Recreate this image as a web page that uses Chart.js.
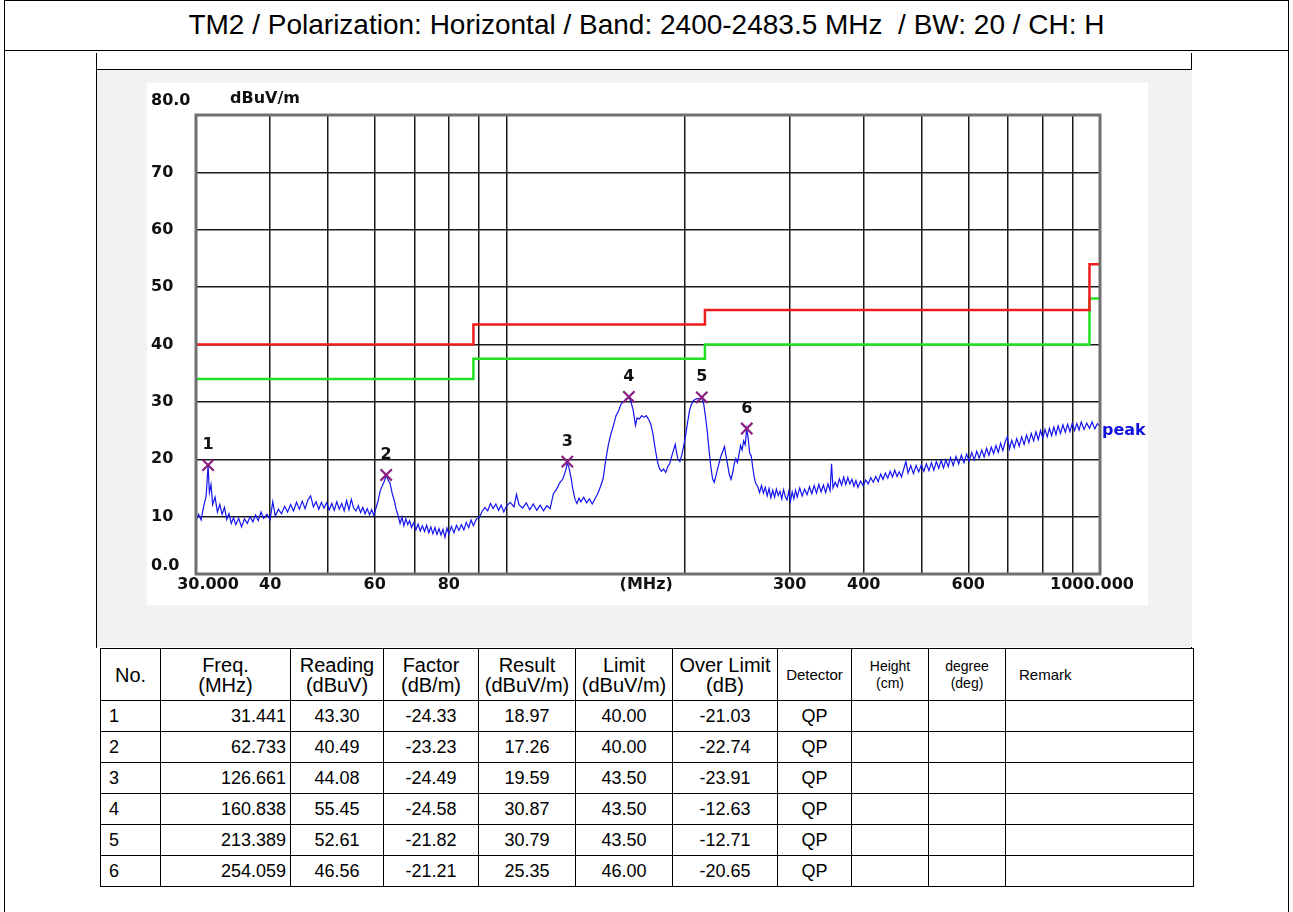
<!DOCTYPE html>
<html>
<head>
<meta charset="utf-8">
<script src="https://cdn.jsdelivr.net/npm/chart.js@4/dist/chart.umd.min.js"></script>
<style>
  html, body { margin: 0; padding: 0; background: #fff; }
  body { width: 1293px; height: 912px; position: relative; overflow: hidden; font-family: "Liberation Sans", Arial, sans-serif; }
  #frame { position: absolute; left: 4px; top: 0; width: 1285px; height: 930px; border: 1.5px solid #000; box-sizing: border-box; }
  #title { position: absolute; left: 4px; top: 0; width: 1285px; height: 51px; border-bottom: 1.5px solid #000; box-sizing: border-box;
           font-size: 28px; line-height: 50px; text-align: center; white-space: pre; color: #000; }
  #lineL { position: absolute; left: 96px; top: 53px; width: 0; height: 595px; border-left: 1.5px solid #000; }
  #lineR { position: absolute; left: 1191px; top: 53px; width: 0; height: 595px; border-left: 1.5px solid #000; }
  #panel { position: absolute; left: 97px; top: 69px; width: 1095px; height: 577px; background: #f2f2f2; border-top: 1.5px solid #000; }
  #plot { position: absolute; left: 147px; top: 83px; width: 1001px; height: 522px; background: #fff; }
  table { position: absolute; left: 100px; top: 648px; width: 1093px; border-collapse: collapse; table-layout: fixed; font-size: 18px; color: #000; }
  td, th { border: 1.5px solid #000; padding: 0 4px; font-weight: normal; line-height: 20px; }
  tbody tr { height: 31px; }
  thead tr { height: 52px; }
  th { text-align: center; font-size: 20px; padding: 0 2px; }
  th.sm { font-size: 15px; line-height: 17px; }
  th.xs { font-size: 14px; line-height: 17px; }
  td { text-align: center; }
  td.no { text-align: left; padding-left: 8px; }
  td.fr { text-align: right; }
</style>
</head>
<body>
<div id="frame"></div>
<div id="title">TM2 / Polarization: Horizontal / Band: 2400-2483.5 MHz  / BW: 20 / CH: H</div>
<div id="lineL"></div>
<div id="lineR"></div>
<div id="panel"></div>
<div id="plot"><canvas id="spectrum" width="1001" height="522"></canvas></div>
<table id="results">
  <colgroup>
    <col style="width:60px"><col style="width:130px"><col style="width:93px"><col style="width:95px">
    <col style="width:97px"><col style="width:97px"><col style="width:105px"><col style="width:74px">
    <col style="width:77px"><col style="width:77px"><col style="width:188px">
  </colgroup>
  <thead>
    <tr>
      <th>No.</th><th>Freq.<br>(MHz)</th><th>Reading<br>(dBuV)</th><th>Factor<br>(dB/m)</th>
      <th>Result<br>(dBuV/m)</th><th>Limit<br>(dBuV/m)</th><th>Over Limit<br>(dB)</th>
      <th class="sm">Detector</th><th class="xs">Height<br>(cm)</th><th class="xs">degree<br>(deg)</th>
      <th class="sm" style="text-align:left;padding-left:13px">Remark</th>
    </tr>
  </thead>
  <tbody></tbody>
</table>
<script>
// scan trace (MHz / dBuV/m)
const traceFreq = [
  30.0, 30.3, 30.6, 30.9, 31.2, 31.44, 31.6, 31.8, 32.0, 32.3, 32.6, 32.9, 33.2, 33.5, 33.8, 34.1, 34.4, 34.7, 35.0, 35.4,
  35.8, 36.2, 36.6, 37.0, 37.4, 37.8, 38.2, 38.6, 39.0, 39.5, 40.0, 40.4, 40.8, 41.3, 41.8, 42.3, 42.8, 43.3, 43.8, 44.3,
  44.8, 45.3, 45.8, 46.3, 46.8, 47.3, 47.8, 48.3, 48.8, 49.3, 49.8, 50.3, 50.8, 51.3, 51.8, 52.3, 52.8, 53.3, 53.8, 54.3,
  54.8, 55.3, 55.8, 56.3, 56.8, 57.3, 57.8, 58.3, 58.8, 59.3, 59.8, 60.3, 60.8, 61.3, 61.8, 62.3, 62.73, 63.2, 63.7, 64.2,
  64.7, 65.2, 65.7, 66.2, 66.7, 67.2, 67.7, 68.2, 68.7, 69.2, 69.8, 70.4, 71.0, 71.6, 72.2, 72.8, 73.4, 74.0, 74.6, 75.2,
  75.8, 76.4, 77.0, 77.6, 78.2, 78.8, 79.4, 80.0, 80.8, 81.6, 82.4, 83.2, 84.0, 84.8, 85.6, 86.4, 87.2, 88.0, 89.0, 90.0,
  91.0, 92.0, 93.0, 94.0, 95.0, 96.0, 97.0, 98.0, 99.0, 100.0, 101.5, 103.0, 104.0, 105.0, 106.5, 108.0, 109.5, 111.0, 112.5, 114.0,
  115.5, 117.0, 118.5, 120.0, 121.5, 123.0, 124.5, 126.0, 126.66, 127.5, 128.5, 129.5, 130.5, 131.5, 132.5, 133.5, 135.0, 136.5, 138.0, 139.5,
  141.0, 142.5, 144.0, 145.5, 147.0, 148.5, 150.0, 151.5, 153.0, 154.5, 156.0, 157.5, 159.0, 160.84, 162.0, 163.5, 165.0, 166.0, 167.5, 169.0,
  170.5, 172.0, 173.5, 175.0, 176.5, 178.0, 179.5, 181.0, 182.5, 184.0, 185.5, 187.0, 188.5, 190.0, 191.5, 192.5, 193.5, 194.5, 196.0, 197.5,
  199.0, 200.5, 202.0, 203.5, 205.0, 206.5, 208.0, 210.0, 211.5, 213.39, 215.0, 216.5, 218.0, 219.5, 221.0, 222.5, 224.0, 225.5, 227.0, 228.5,
  230.0, 231.5, 233.0, 234.5, 236.0, 237.5, 239.0, 240.5, 242.0, 243.5, 245.0, 246.5, 248.0, 249.5, 251.0, 252.5, 254.06, 255.5, 257.0, 258.5,
  260.0, 261.5, 263.0, 265.0, 267.0, 269.0, 271.0, 273.0, 275.0, 277.0, 279.0, 281.0, 283.0, 285.0, 287.0, 289.0, 291.0, 293.0, 295.0, 297.0,
  299.0, 301.0, 303.0, 305.0, 307.0, 309.0, 312.0, 315.0, 318.0, 321.0, 324.0, 327.0, 330.0, 333.0, 336.0, 339.0, 342.0, 345.0, 348.0, 351.0,
  353.0, 355.0, 358.0, 361.0, 364.0, 367.0, 370.0, 373.0, 376.0, 379.0, 382.0, 385.0, 388.0, 391.0, 395.0, 399.0, 403.0, 407.0, 411.0, 415.0,
  419.0, 423.0, 427.0, 431.0, 435.0, 439.0, 443.0, 447.0, 451.0, 455.0, 459.0, 463.0, 467.0, 471.0, 475.0, 480.0, 485.0, 490.0, 495.0, 500.0,
  505.0, 510.0, 515.0, 520.0, 525.0, 530.0, 535.0, 540.0, 545.0, 550.0, 555.0, 560.0, 566.0, 572.0, 578.0, 584.0, 590.0, 596.0, 602.0, 608.0,
  614.0, 620.0, 626.0, 632.0, 638.0, 644.0, 650.0, 656.0, 662.0, 668.0, 674.0, 680.0, 686.0, 692.0, 698.0, 704.0, 710.0, 717.0, 724.0, 731.0,
  738.0, 745.0, 752.0, 759.0, 766.0, 773.0, 780.0, 787.0, 794.0, 801.0, 808.0, 815.0, 822.0, 829.0, 836.0, 843.0, 850.0, 858.0, 866.0, 874.0,
  882.0, 890.0, 898.0, 906.0, 914.0, 922.0, 930.0, 940.0, 950.0, 960.0, 970.0, 980.0, 990.0, 1000.0
];
const traceLevel = [
  9.2, 10.4, 9.4, 11.8, 13.5, 18.9, 14.2, 15.6, 12.1, 13.4, 10.8, 12.1, 10.4, 11.6, 9.5, 10.5, 8.8, 9.8, 8.6, 9.7,
  8.2, 9.6, 8.8, 10.0, 9.1, 10.3, 9.3, 10.8, 9.7, 10.4, 9.5, 12.6, 10.1, 11.3, 10.5, 11.8, 10.8, 12.1, 11.0, 12.5,
  11.3, 12.7, 11.4, 12.9, 13.6, 11.7, 12.6, 11.3, 12.5, 11.5, 12.4, 11.2, 12.3, 11.1, 12.6, 11.3, 12.3, 11.0, 12.8, 11.2,
  13.0, 11.5, 11.0, 11.9, 10.7, 11.6, 10.5, 11.4, 10.3, 11.2, 10.2, 11.5, 12.8, 14.5, 15.4, 16.2, 17.2, 16.4, 15.8, 14.1,
  12.9, 11.3, 10.2, 8.8, 9.9, 8.4, 9.6, 8.6, 9.3, 8.1, 8.9, 7.7, 8.7, 7.5, 8.4, 7.4, 8.5, 7.2, 8.2, 7.0,
  8.1, 6.9, 7.9, 6.8, 7.8, 6.4, 8.0, 7.0, 8.3, 7.2, 8.5, 7.6, 8.6, 7.7, 9.0, 8.1, 9.4, 8.4, 9.6, 9.8,
  10.9, 11.6, 11.0, 12.3, 11.4, 12.2, 11.1, 12.0, 10.8, 11.8, 12.5, 11.7, 13.9, 12.1, 11.5, 12.4, 11.2, 12.2, 11.1, 12.0,
  11.0, 11.9, 11.4, 14.0, 14.8, 15.9, 16.6, 18.2, 19.5, 18.5, 16.8, 14.6, 13.0, 12.3, 13.2, 12.6, 13.4, 12.4, 13.1, 12.2,
  13.1, 14.0, 15.2, 16.6, 19.8, 22.5, 24.4, 25.9, 27.6, 28.4, 29.6, 30.0, 30.5, 30.8, 30.1, 28.6, 25.9, 27.2, 27.0, 27.6,
  27.3, 27.6, 27.0, 26.2, 24.5, 22.0, 19.8, 18.4, 17.9, 18.3, 17.7, 18.7, 19.3, 20.6, 21.8, 22.6, 21.2, 20.0, 19.6, 20.8,
  22.4, 24.3, 26.5, 28.5, 29.6, 30.2, 30.4, 30.6, 30.5, 30.7, 29.6, 27.4, 24.8, 21.6, 18.7, 16.6, 16.0, 17.2, 18.4, 19.6,
  20.6, 21.4, 22.2, 20.5, 18.9, 17.3, 16.5, 17.6, 19.2, 20.1, 19.4, 20.8, 22.4, 21.6, 23.2, 22.5, 25.3, 23.6, 21.0, 20.6,
  18.6, 16.9, 15.8, 15.3, 14.2, 15.4, 14.1, 15.1, 13.6, 14.9, 13.3, 14.6, 13.4, 14.8, 13.7, 14.4, 13.1, 14.7, 13.5, 12.9,
  14.4, 12.7, 14.3, 13.1, 14.6, 13.4, 15.0, 13.6, 14.8, 13.8, 15.2, 14.0, 15.4, 14.1, 15.6, 14.3, 15.5, 14.2, 15.7, 14.5,
  19.2, 15.0, 16.0, 15.2, 16.6, 15.5, 16.9, 15.6, 16.8, 15.7, 16.5, 15.3, 16.3, 15.1, 16.2, 15.4, 16.4, 15.7, 16.8, 16.0,
  17.0, 16.1, 17.4, 16.5, 17.6, 16.7, 17.9, 16.9, 18.1, 17.0, 17.8, 16.9, 18.3, 19.6, 17.6, 18.9, 17.5, 18.9, 17.8, 19.0,
  17.9, 19.2, 18.0, 19.4, 18.1, 19.6, 18.4, 19.8, 18.5, 19.9, 18.7, 20.3, 18.9, 20.5, 19.2, 20.7, 19.4, 20.9, 19.7, 21.2,
  19.9, 21.4, 20.2, 21.6, 20.4, 21.9, 20.7, 22.1, 21.0, 22.4, 21.2, 22.8, 21.5, 23.0, 23.9, 21.8, 23.3, 22.0, 23.6, 22.3,
  23.9, 22.6, 24.2, 22.9, 24.5, 23.2, 24.8, 23.4, 25.0, 23.7, 25.2, 23.9, 25.4, 24.1, 25.6, 24.3, 25.8, 24.5, 26.0, 24.7,
  26.1, 24.8, 26.3, 25.0, 26.2, 25.1, 26.5, 25.2, 26.3, 25.4, 26.5, 25.3, 26.2, 25.7
];

// limit lines (value holds until the next break)
const limitFreq = [30, 88, 216, 960, 1000];
const qpLimit = [40, 43.5, 46, 54, 54];
const marginLimit = [34, 37.5, 40, 48, 48];

// marked peaks, also the table rows
const markNo = [1, 2, 3, 4, 5, 6];
const markFreq = [31.441, 62.733, 126.661, 160.838, 213.389, 254.059];
const markReading = [43.30, 40.49, 44.08, 55.45, 52.61, 46.56];
const markFactor = [-24.33, -23.23, -24.49, -24.58, -21.82, -21.21];
const markResult = [18.97, 17.26, 19.59, 30.87, 30.79, 25.35];
const markLimit = [40.00, 40.00, 43.50, 43.50, 43.50, 46.00];
const markMargin = [-21.03, -22.74, -23.91, -12.63, -12.71, -20.65];
const markDetector = ['QP', 'QP', 'QP', 'QP', 'QP', 'QP'];

// axes
const xGridValues = [30, 40, 50, 60, 70, 80, 90, 100, 200, 300, 400, 500, 600, 700, 800, 900, 1000];
const xLabelValues = [30, 40, 60, 80, 172, 300, 400, 600, 1000];
const xLabelTexts = ['30.000', '40', '60', '80', '(MHz)', '300', '400', '600', '1000.000'];
const yLabelValues = [0, 10, 20, 30, 40, 50, 60, 70, 80];
const yLabelTexts = ['0.0', '10', '20', '30', '40', '50', '60', '70', '80.0'];

const tbody = document.querySelector('#results tbody');
markNo.forEach((n, i) => {
    const tr = document.createElement('tr');
    tr.innerHTML = `<td class="no">${n}</td><td class="fr">${markFreq[i].toFixed(3)}</td>` +
        `<td>${markReading[i].toFixed(2)}</td><td>${markFactor[i].toFixed(2)}</td>` +
        `<td>${markResult[i].toFixed(2)}</td><td>${markLimit[i].toFixed(2)}</td>` +
        `<td>${markMargin[i].toFixed(2)}</td><td>${markDetector[i]}</td><td></td><td></td><td></td>`;
    tbody.appendChild(tr);
});

const axisFont = 'bold 16px "DejaVu Sans"';

const labelsPlugin = {
    id: 'labels',
    afterDraw(chart) {
        const ctx = chart.ctx;
        const x = chart.scales.x, y = chart.scales.y;
        const area = chart.chartArea;
        ctx.save();
        // plot frame
        ctx.strokeStyle = '#707070';
        ctx.lineWidth = 3;
        ctx.strokeRect(area.left, area.top, area.right - area.left, area.bottom - area.top);

        ctx.font = axisFont;
        ctx.fillStyle = '#111';
        ctx.textBaseline = 'middle';
        // y labels
        ctx.textAlign = 'left';
        yLabelValues.forEach((v, i) => {
            let py = y.getPixelForValue(v);
            if (v === 80) py -= 14;
            if (v === 0) py -= 8;
            ctx.fillText(yLabelTexts[i], 4, py);
        });
        ctx.fillText('dBuV/m', 83, 16);
        // x labels
        ctx.textAlign = 'center';
        xLabelValues.forEach((v, i) => {
            let px = x.getPixelForValue(v);
            if (v === 30) px += 12;
            if (v === 1000) px -= 8;
            ctx.fillText(xLabelTexts[i], px, area.bottom + 11);
        });
        // marker numbers
        markNo.forEach((n, i) => {
            ctx.fillText(String(n), x.getPixelForValue(markFreq[i]), y.getPixelForValue(markResult[i]) - 20);
        });
        // trace name
        ctx.fillStyle = '#1010e0';
        ctx.textAlign = 'left';
        ctx.fillText('peak', area.right + 2, y.getPixelForValue(traceLevel[traceLevel.length - 1]) + 4);
        ctx.restore();
    }
};

new Chart(document.getElementById('spectrum').getContext('2d'), {
    type: 'line',
    data: {
        datasets: [
            {
                label: 'marks',
                type: 'scatter',
                data: markFreq.map((f, i) => ({ x: f, y: markResult[i] })),
                pointStyle: 'crossRot',
                pointRadius: 8,
                borderColor: '#8a1f80',
                borderWidth: 2.2,
                order: 0
            },
            {
                label: 'peak',
                data: traceFreq.map((f, i) => ({ x: f, y: traceLevel[i] })),
                borderColor: '#1414f0',
                borderWidth: 1.2,
                pointRadius: 0,
                tension: 0,
                order: 1
            },
            {
                label: 'QP limit',
                data: limitFreq.map((f, i) => ({ x: f, y: qpLimit[i] })),
                borderColor: '#ee1c1c',
                borderWidth: 2.5,
                pointRadius: 0,
                stepped: 'before',
                order: 2
            },
            {
                label: 'margin',
                data: limitFreq.map((f, i) => ({ x: f, y: marginLimit[i] })),
                borderColor: '#22e022',
                borderWidth: 2.5,
                pointRadius: 0,
                stepped: 'before',
                order: 3
            }
        ]
    },
    options: {
        responsive: false,
        animation: false,
        layout: { padding: { left: 0, right: 48, top: 32, bottom: 0 } },
        plugins: { legend: { display: false }, tooltip: { enabled: false } },
        scales: {
            x: {
                type: 'logarithmic',
                min: 30,
                max: 1000,
                afterBuildTicks: scale => { scale.ticks = xGridValues.map(v => ({ value: v })); },
                afterFit: scale => { scale.height = 31; },
                ticks: { display: false },
                grid: { color: '#1a1a1a', lineWidth: 1.5, drawTicks: false },
                border: { display: false }
            },
            y: {
                min: 0,
                max: 80,
                afterBuildTicks: scale => { scale.ticks = yLabelValues.map(v => ({ value: v })); },
                afterFit: scale => { scale.width = 49; },
                ticks: { display: false },
                grid: { color: '#1a1a1a', lineWidth: 1.5, drawTicks: false },
                border: { display: false }
            }
        }
    },
    plugins: [labelsPlugin]
});
</script>
</body>
</html>
